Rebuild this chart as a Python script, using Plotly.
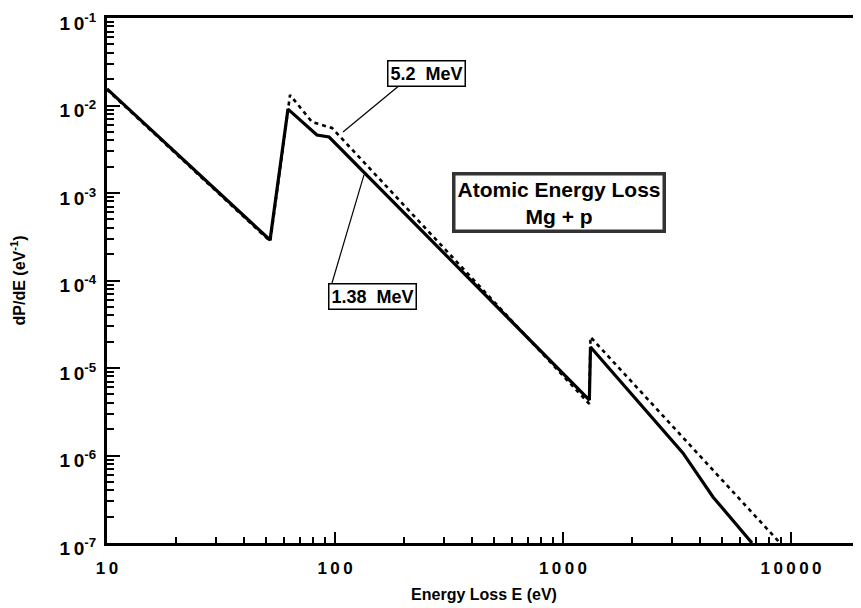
import plotly.graph_objects as go

# Energy loss E (eV) and dP/dE (1/eV) for two proton energies
E_138 = [10, 51.9, 62.2, 83.3, 94.2, 1305, 1320, 2244, 3356, 4548, 6745]
P_138 = [1.55e-2, 2.9e-4, 9.1e-3, 4.6e-3, 4.36e-3, 4.3e-6, 1.74e-5, 3.58e-6, 1.07e-6, 3.36e-7, 1.0e-7]

E_52 = [10, 52.0, 63.5, 79.3, 97.0, 1305, 1320, 8954]
P_52 = [1.52e-2, 2.8e-4, 1.32e-2, 6.48e-3, 5.53e-3, 3.88e-6, 2.26e-5, 1.0e-7]

x_tickvals = [10, 100, 1000, 10000]
x_ticktext = ["1\u20090", "1\u20090\u20090", "1\u20090\u20090\u20090", "1\u20090\u20090\u20090\u20090"]
y_tickvals = [1e-1, 1e-2, 1e-3, 1e-4, 1e-5, 1e-6, 1e-7]
y_ticktext = ["1\u20090<sup>-1</sup>", "1\u20090<sup>-2</sup>", "1\u20090<sup>-3</sup>", "1\u20090<sup>-4</sup>",
              "1\u20090<sup>-5</sup>", "1\u20090<sup>-6</sup>", "1\u20090<sup>-7</sup>"]

x_minor = [m * 10 ** d for d in range(1, 5) for m in range(2, 10)]
y_minor = [m * 10.0 ** d for d in range(-7, -1) for m in range(2, 10)]

FONT = "Liberation Sans, Arial, Helvetica, sans-serif"

fig = go.Figure()
fig.add_trace(go.Scatter(x=E_138, y=P_138, mode="lines", name="1.38 MeV",
                         line=dict(color="black", width=3.2)))
fig.add_trace(go.Scatter(x=E_52, y=P_52, mode="lines", name="5.2 MeV",
                         line=dict(color="black", width=2.6, dash="4px,4px")))

fig.update_layout(
    width=861, height=608,
    margin=dict(l=99, r=8, t=10, b=73),
    paper_bgcolor="white", plot_bgcolor="white",
    showlegend=False,
    font=dict(family=FONT, color="black", size=15, weight="bold"),
)

fig.update_xaxes(
    type="log", range=[1, 4.307],
    showgrid=False, zeroline=False, automargin=False,
    showline=True, linecolor="black", linewidth=2.5, mirror=True,
    tickmode="array", tickvals=x_tickvals, ticktext=x_ticktext,
    ticks="inside", ticklen=11, tickwidth=2, tickcolor="black",
    ticklabelstandoff=8, ticklabeloverflow="allow",
    minor=dict(tickmode="array", tickvals=x_minor, ticks="inside", ticklen=6,
               tickwidth=1.5, tickcolor="black", showgrid=False),
    tickfont=dict(size=17, family=FONT, weight="bold"),
    title=dict(text="Energy Loss E (eV)", standoff=12,
               font=dict(size=16, family=FONT, weight="bold")),
)
fig.update_yaxes(
    type="log", range=[-7, -1],
    showgrid=False, zeroline=False, automargin=False,
    showline=True, linecolor="black", linewidth=3,
    tickmode="array", tickvals=y_tickvals, ticktext=y_ticktext,
    ticks="inside", ticklen=13, tickwidth=2, tickcolor="black",
    ticklabelstandoff=4, ticklabeloverflow="allow", ticklabelshift=5,
    minor=dict(tickmode="array", tickvals=y_minor, ticks="inside", ticklen=7,
               tickwidth=1.5, tickcolor="black", showgrid=False),
    tickfont=dict(size=19, family=FONT, weight="bold"),
    title=dict(text="dP/dE (eV<sup>-1</sup>)", standoff=34,
               font=dict(size=16, family=FONT, weight="bold")),
)

# leader lines
fig.add_shape(type="line", xref="x", yref="y", x0=217.7, y0=0.0223, x1=108.4, y1=4.98e-3,
              line=dict(color="black", width=1.2))
fig.add_shape(type="line", xref="x", yref="y", x0=97.0, y0=9.36e-5, x1=134, y1=1.61e-3,
              line=dict(color="black", width=1.2))

fig.add_annotation(xref="paper", yref="paper", x=0.4244, y=0.92, text="5.2  MeV",
                   showarrow=False, bgcolor="white", bordercolor="black", borderwidth=1.5,
                   borderpad=2, font=dict(size=18, family=FONT, weight="bold"))
fig.add_annotation(xref="paper", yref="paper", x=0.293, y=0.4686, text="1.38  MeV",
                   showarrow=False, bgcolor="white", bordercolor="black", borderwidth=1.5,
                   borderpad=2, font=dict(size=18, family=FONT, weight="bold"))
fig.add_annotation(xref="paper", yref="paper", x=0.7414, y=0.7067,
                   text="Atomic Energy Loss<br>Mg + p",
                   showarrow=False, bgcolor="white", bordercolor="#333333", borderwidth=3.5,
                   borderpad=2, font=dict(size=21, family=FONT, weight="bold"))

fig.write_html("out.html")
